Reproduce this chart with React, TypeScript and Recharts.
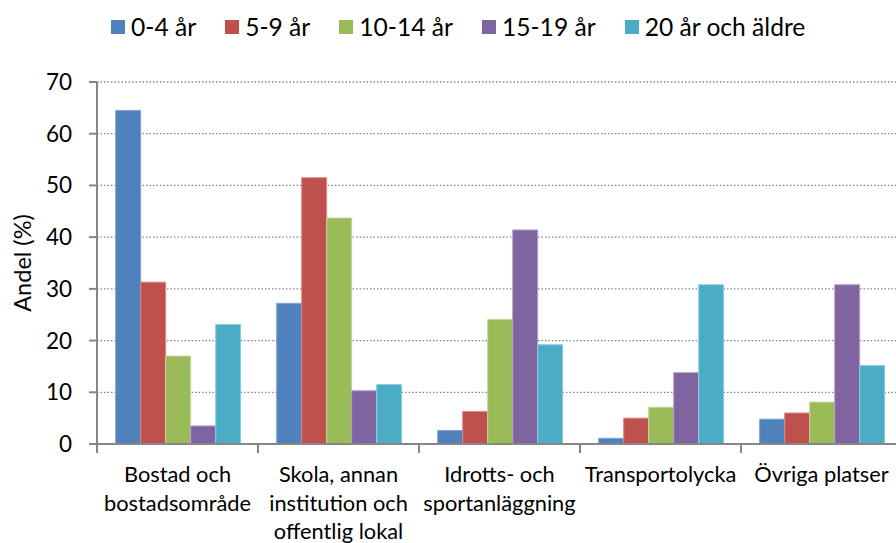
import React from "react";
import { BarChart, Bar, XAxis, YAxis, CartesianGrid, Legend } from "recharts";

const categories = [
  "Bostad och\nbostadsområde",
  "Skola, annan\ninstitution och\noffentlig lokal",
  "Idrotts- och\nsportanläggning",
  "Transportolycka",
  "Övriga platser",
];
const age0to4 = [64.5, 27.2, 2.6, 1.1, 4.8];
const age5to9 = [31.3, 51.5, 6.3, 5.0, 6.0];
const age10to14 = [17.0, 43.7, 24.1, 7.1, 8.1];
const age15to19 = [3.5, 10.3, 41.4, 13.8, 30.8];
const age20plus = [23.1, 11.5, 19.2, 30.8, 15.2];
const yTicks = [0, 10, 20, 30, 40, 50, 60, 70];

const seriesList = [
  { key: "a", name: "0-4 år", values: age0to4, color: "#4F81BD", edge: "#7EA3D3" },
  { key: "b", name: "5-9 år", values: age5to9, color: "#C0504D", edge: "#D88A88" },
  { key: "c", name: "10-14 år", values: age10to14, color: "#9BBB59", edge: "#C3D89A" },
  { key: "d", name: "15-19 år", values: age15to19, color: "#8064A2", edge: "#B3A2C7" },
  { key: "e", name: "20 år och äldre", values: age20plus, color: "#4BACC6", edge: "#93CDDD" },
];

const data = categories.map((c, i) => {
  const row: any = { category: c };
  seriesList.forEach((s) => (row[s.key] = s.values[i]));
  return row;
});

const FONT = "Lato, 'Open Sans', sans-serif";
const AXIS = "#868686";

const XTick = (props: any) => {
  const { x, y, payload } = props;
  const off = payload.offset || 0;
  const lines = String(payload.value).split("\n");
  return (
    <g>
      <line x1={x - off} x2={x - off} y1={y - 8} y2={y + 1} stroke={AXIS} strokeWidth={2} />
      <text x={x} y={y} textAnchor="middle" fontFamily={FONT} fontSize={21.8} fill="#000">
        {lines.map((l, i) => (
          <tspan key={i} x={x} dy={i === 0 ? 30 : 28.5}>
            {l}
          </tspan>
        ))}
      </text>
    </g>
  );
};

const LegendContent = () => (
  <div style={{ display: "flex", alignItems: "center", paddingLeft: 111, fontFamily: FONT, fontSize: 24.6, color: "#000" }}>
    {seriesList.map((s) => (
      <div key={s.key} style={{ display: "flex", alignItems: "center", marginRight: 29 }}>
        <div style={{ width: 14, height: 14, background: s.color, marginRight: 6 }} />
        <span>{s.name}</span>
      </div>
    ))}
  </div>
);

export default function App() {
  return (
    <div style={{ position: "absolute", left: 0, top: 0, width: 896, height: 543, overflow: "hidden", background: "#fff" }}>
      <BarChart
        width={910}
        height={543}
        data={data}
        margin={{ top: 82, right: 8, bottom: 0, left: 0 }}
        barCategoryGap="11.6%"
        barGap={0}
      >
        <CartesianGrid vertical={false} stroke={AXIS} strokeWidth={1.3} strokeDasharray="1.5 2" />
        <XAxis
          dataKey="category"
          height={99}
          interval={0}
          axisLine={{ stroke: AXIS, strokeWidth: 2 }}
          tickLine={false}
          tick={<XTick />}
        />
        <YAxis
          width={97}
          domain={[0, 70]}
          ticks={yTicks}
          interval={0}
          axisLine={{ stroke: AXIS, strokeWidth: 2 }}
          tickLine={{ stroke: AXIS, strokeWidth: 2 }}
          tickSize={8}
          tickMargin={17}
          tick={{ fontFamily: FONT, fontSize: 22.5, fill: "#000" }}
          label={{
            content: () => (
              <text transform="translate(31,263) rotate(-90)" textAnchor="middle" fontFamily={FONT} fontSize={23.5} fill="#000">
                Andel (%)
              </text>
            ),
          }}
        />
        <Legend
          verticalAlign="middle"
          align="center"
          layout="horizontal"
          wrapperStyle={{ top: 12, left: 0, width: 896 }}
          content={<LegendContent />}
        />
        {seriesList.map((s) => (
          <Bar
            key={s.key}
            dataKey={s.key}
            name={s.name}
            fill={s.color}
            stroke={s.edge}
            strokeWidth={1}
            isAnimationActive={false}
          />
        ))}
      </BarChart>
    </div>
  );
}
